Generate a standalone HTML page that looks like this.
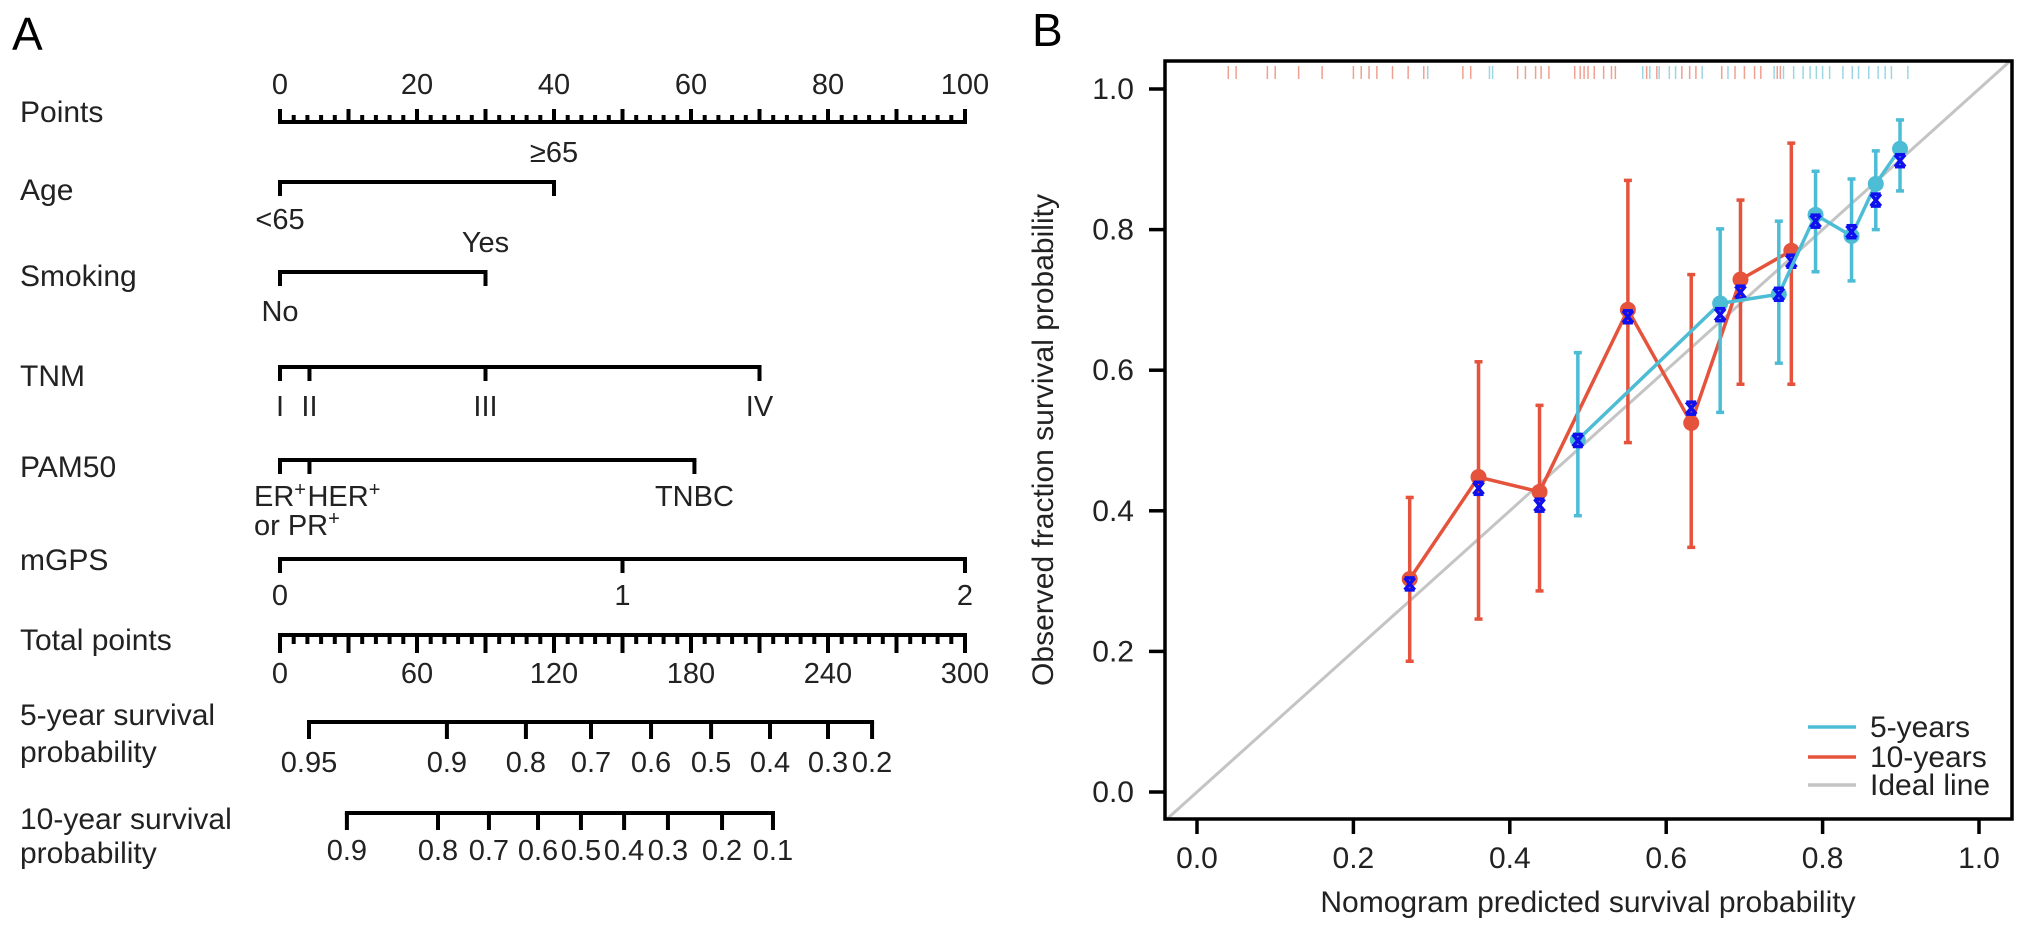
<!DOCTYPE html>
<html><head><meta charset="utf-8"><style>
html,body{margin:0;padding:0;background:#fff;}
svg{display:block;font-family:"Liberation Sans",Arial,sans-serif;}
</style></head><body>
<svg id="fig" width="2032" height="938" viewBox="0 0 2032 938" xmlns="http://www.w3.org/2000/svg">
<text x="12" y="50" font-size="46">A</text>
<text x="1032" y="46" font-size="46">B</text>
<g id="nomo"></g>
<g id="calib"></g>
</svg>
<script>
// ---------- Nomogram data ----------
const pointTicks = [0,20,40,60,80,100];
const ageLevels = ["<65","≥65"]; const agePoints = [0,40];
const smokingLevels = ["No","Yes"]; const smokingPoints = [0,30];
const tnmLevels = ["I","II","III","IV"]; const tnmPoints = [0,4.3,30,70];
const pamLevels = ["ER+","HER+","TNBC"]; const pamPoints = [0,4.3,60.5];
const mgpsLevels = ["0","1","2"]; const mgpsPoints = [0,50,100];
const totalTicks = [0,60,120,180,240,300];
const surv5Labels = ["0.95","0.9","0.8","0.7","0.6","0.5","0.4","0.3","0.2"];
const surv5Total = [12.7,73.1,107.7,136.2,162.5,188.8,214.6,240,259.3];
const surv10Labels = ["0.9","0.8","0.7","0.6","0.5","0.4","0.3","0.2","0.1"];
const surv10Total = [29.3,69.2,91.5,113,131.8,150.7,169.9,193.6,215.9];

// ---------- Calibration data ----------
const x5 = [0.487,0.669,0.744,0.791,0.837,0.868,0.899];
const y5 = [0.501,0.695,0.708,0.821,0.791,0.865,0.915];
const lo5 = [0.393,0.540,0.610,0.740,0.727,0.800,0.855];
const hi5 = [0.625,0.801,0.812,0.883,0.872,0.912,0.956];
const bc5 = [0.500,0.679,0.708,0.812,0.797,0.842,0.898];
const x10 = [0.272,0.360,0.438,0.551,0.632,0.695,0.760];
const y10 = [0.303,0.448,0.427,0.686,0.525,0.729,0.770];
const lo10 = [0.186,0.246,0.286,0.497,0.348,0.580,0.580];
const hi10 = [0.419,0.612,0.550,0.870,0.736,0.842,0.923];
const bc10 = [0.296,0.432,0.408,0.676,0.546,0.711,0.755];
const rugRed = [0.04,0.05,0.09,0.10,0.13,0.16,0.20,0.21,0.22,0.23,0.25,0.27,0.29,0.295,0.34,0.35,0.41,0.42,0.433,0.44,0.45,0.483,0.49,0.495,0.5,0.508,0.52,0.53,0.535,0.575,0.588,0.62,0.63,0.638,0.671,0.688,0.70,0.713,0.721,0.742,0.746];
const rugCyan = [0.295,0.374,0.378,0.57,0.579,0.591,0.604,0.612,0.646,0.679,0.738,0.75,0.763,0.775,0.784,0.792,0.80,0.809,0.826,0.838,0.846,0.859,0.871,0.88,0.888,0.909];
const axisTicks = [0,0.2,0.4,0.6,0.8,1.0];
const axisTickLabels = ["0.0","0.2","0.4","0.6","0.8","1.0"];

const NS="http://www.w3.org/2000/svg";
function mk(parent,tag,attrs,text){const e=document.createElementNS(NS,tag);for(const k in attrs)e.setAttribute(k,attrs[k]);if(text!==undefined)e.textContent=text;parent.appendChild(e);return e;}

// ---------- Nomogram ----------
const nomo=document.getElementById('nomo');
const P0=280, P100=965;
const px=p=>P0+(P100-P0)*p/100;
const tx=t=>P0+(P100-P0)*t/300;
const FS=29, LFS=30, SW=4;
function line(x1,y1,x2,y2,name){const l=mk(nomo,'line',{x1,y1,x2,y2,stroke:'#000','stroke-width':SW,'stroke-linecap':'butt'});

return l;}
function txt(x,y,s,anchor,name,fs){const t=mk(nomo,'text',{x,y,'font-size':fs||FS,'text-anchor':anchor||'middle',fill:'#222'},s);

return t;}
const rowLabels=[["Points",122],["Age",200],["Smoking",286],["TNM",386],["PAM50",477],["mGPS",570],["Total points",650],["5-year survival",725],["probability",762],["10-year survival",829],["probability",863]];
rowLabels.forEach(r=>txt(20,r[1],r[0],'start','row-label',LFS));
const PY=122;
line(px(0)-2,PY,px(100)+2,PY,'points-axis');
for(let p=0;p<=100;p+=2){const maj=p%10===0;line(px(p),PY,px(p),PY-(maj?13:7),'points-tick');}
pointTicks.forEach(p=>txt(px(p),94,String(p),'middle','points-tick-label'));
function varAxis(y,pts,name){line(px(Math.min(...pts))-2,y,px(Math.max(...pts))+2,y,name+'-axis');pts.forEach(p=>line(px(p),y,px(p),y+14,name+'-tick'));}
varAxis(182,agePoints,'age');
txt(px(agePoints[1]),162,ageLevels[1],'middle','age-level-label');
txt(px(agePoints[0]),229,ageLevels[0],'middle','age-level-label');
varAxis(272,smokingPoints,'smoking');
txt(px(smokingPoints[1]),252,smokingLevels[1],'middle','smoking-level-label');
txt(px(smokingPoints[0]),321,smokingLevels[0],'middle','smoking-level-label');
varAxis(367,tnmPoints,'tnm');
tnmLevels.forEach((l,i)=>txt(px(tnmPoints[i]),416,l,'middle','tnm-level-label'));
varAxis(460,pamPoints,'pam50');
(function(){const t=txt(px(pamPoints[0])-26,506,'','start','pam50-level-label');
 t.innerHTML='ER<tspan dy="-10" font-size="20">+</tspan>';
 const t2=txt(px(pamPoints[1])-2,506,'','start','pam50-level-label');
 t2.innerHTML='HER<tspan dy="-10" font-size="20">+</tspan>';
 const t3=txt(px(pamPoints[0])-26,535,'','start','pam50-level-label');
 t3.innerHTML='or PR<tspan dy="-10" font-size="20">+</tspan>';
 txt(px(pamPoints[2]),506,pamLevels[2],'middle','pam50-level-label');})();
varAxis(559,mgpsPoints,'mgps');
mgpsLevels.forEach((l,i)=>txt(px(mgpsPoints[i]),605,l,'middle','mgps-level-label'));
const TY=635;
line(tx(0)-2,TY,tx(300)+2,TY,'total-points-axis');
for(let t=0;t<=300;t+=6){const maj=t%30===0;line(tx(t),TY,tx(t),TY+(maj?18:9),'total-points-tick');}
totalTicks.forEach(t=>txt(tx(t),683,String(t),'middle','total-points-tick-label'));
function survAxis(y,tot,labels,ly,name){line(tx(tot[0])-2,y,tx(tot[tot.length-1])+2,y,name+'-axis');
 tot.forEach((t,i)=>{line(tx(t),y,tx(t),y+17,name+'-tick');txt(tx(t),ly,labels[i],'middle',name+'-tick-label');});}
survAxis(722,surv5Total,surv5Labels,772,'five-year-survival');
survAxis(813,surv10Total,surv10Labels,860,'ten-year-survival');

// ---------- Calibration plot ----------
const cal=document.getElementById('calib');
const X0=1197, XU=782, Y0=792, YU=703;
const sx=v=>X0+XU*v, sy=v=>Y0-YU*v;
const FL=1165, FR=2012, FT=61, FB=819;
const CYAN='#4dbdd6', RED='#e5533d', BLUE='#1010ee';
const CFS=30;
let e;
e=mk(cal,'line',{x1:sx(-0.04),y1:sy(-0.04),x2:sx(1.04),y2:sy(1.04),stroke:'#c4c4c4','stroke-width':3});


rugRed.forEach(v=>{const r=mk(cal,'line',{x1:sx(v),y1:66,x2:sx(v),y2:79,stroke:'#f0a090','stroke-width':1.5});

});
rugCyan.forEach(v=>{const r=mk(cal,'line',{x1:sx(v),y1:66,x2:sx(v),y2:79,stroke:'#9ad6e6','stroke-width':1.5});

});
function series(xs,ys,lo,hi,bc,col,name){
 const pts=xs.map((x,i)=>sx(x)+','+sy(ys[i])).join(' ');
 const pl=mk(cal,'polyline',{points:pts,fill:'none',stroke:col,'stroke-width':3.5});
 
 
 xs.forEach((x,i)=>{
  const g=mk(cal,'g',{});
  
  
  mk(g,'line',{x1:sx(x),y1:sy(lo[i]),x2:sx(x),y2:sy(hi[i]),stroke:col,'stroke-width':3.5});
  mk(g,'line',{x1:sx(x)-4,y1:sy(lo[i]),x2:sx(x)+4,y2:sy(lo[i]),stroke:col,'stroke-width':3.5});
  mk(g,'line',{x1:sx(x)-4,y1:sy(hi[i]),x2:sx(x)+4,y2:sy(hi[i]),stroke:col,'stroke-width':3.5});
  const c=mk(cal,'circle',{cx:sx(x),cy:sy(ys[i]),r:8,fill:col});
  
  
 });
 xs.forEach((x,i)=>{
  const g=mk(cal,'g',{stroke:BLUE,'stroke-width':3.5});
  
  
  const cx=sx(x),cy=sy(bc[i]);
  mk(g,'line',{x1:cx-5,y1:cy-6,x2:cx+5,y2:cy+6});
  mk(g,'line',{x1:cx+5,y1:cy-6,x2:cx-5,y2:cy+6});
  mk(g,'line',{x1:cx-5,y1:cy-6,x2:cx+5,y2:cy-6});
  mk(g,'line',{x1:cx-5,y1:cy+6,x2:cx+5,y2:cy+6});
 });
}
series(x10,y10,lo10,hi10,bc10,RED,'ten-year');
series(x5,y5,lo5,hi5,bc5,CYAN,'five-year');
e=mk(cal,'rect',{x:FL,y:FT,width:FR-FL,height:FB-FT,fill:'none',stroke:'#000','stroke-width':3.5});


axisTicks.forEach((v,i)=>{
 let t=mk(cal,'line',{x1:sx(v),y1:FB,x2:sx(v),y2:FB+15,stroke:'#000','stroke-width':3.5});
 
 
 t=mk(cal,'text',{x:sx(v),y:868,'font-size':CFS,'text-anchor':'middle',fill:'#222'},axisTickLabels[i]);
 
 
 t=mk(cal,'line',{x1:FL,y1:sy(v),x2:FL-16,y2:sy(v),stroke:'#000','stroke-width':3.5});
 
 
 t=mk(cal,'text',{x:1134,y:sy(v)+10,'font-size':CFS,'text-anchor':'end',fill:'#222'},axisTickLabels[i]);
 
 
});
e=mk(cal,'text',{x:(sx(0)+sx(1))/2,y:912,'font-size':CFS,'text-anchor':'middle',fill:'#222'},'Nomogram predicted survival probability');


e=mk(cal,'text',{x:0,y:0,'font-size':CFS,'text-anchor':'middle',fill:'#222',transform:'translate(1053,440) rotate(-90)'},'Observed fraction survival probability');


const leg=[["5-years",CYAN,727],["10-years",RED,757],["Ideal line",'#c4c4c4',785]];
leg.forEach(l=>{
 const g=mk(cal,'g',{});
 
 
 mk(g,'line',{x1:1808,y1:l[2],x2:1856,y2:l[2],stroke:l[1],'stroke-width':3.5});
 mk(g,'text',{x:1870,y:l[2]+10,'font-size':CFS,fill:'#222'},l[0]);
});
</script>
</body></html>
